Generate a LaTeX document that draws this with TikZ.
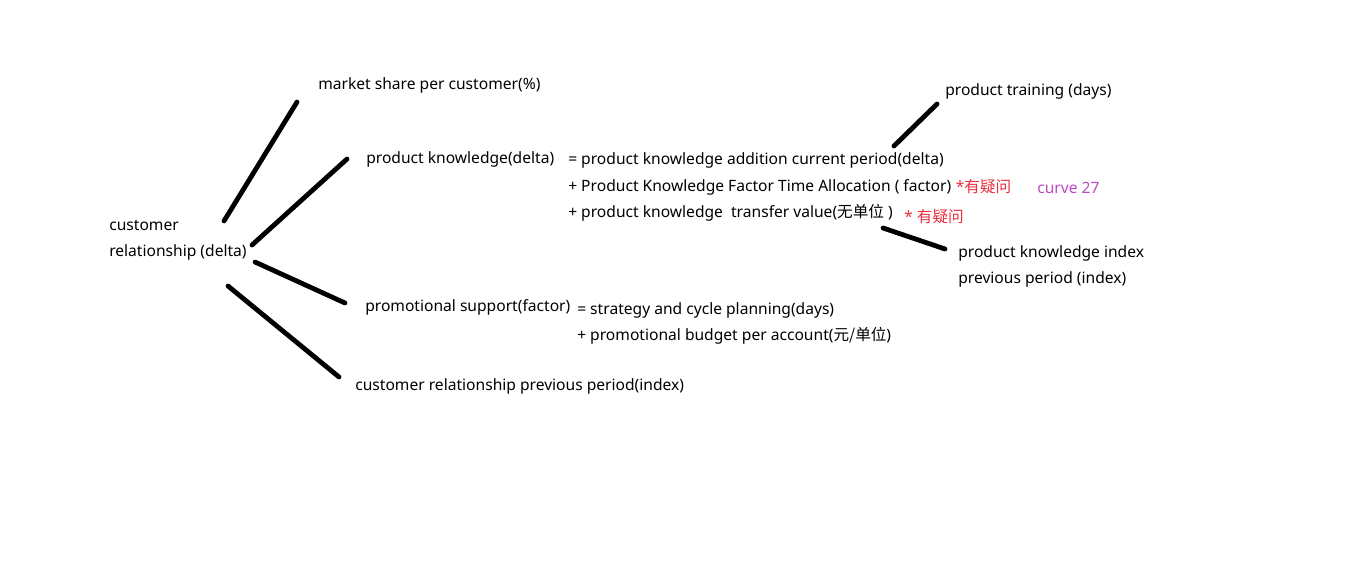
\documentclass[tikz,border=0pt]{standalone}
\usepackage{fontspec}
\setmainfont{Noto Sans}
\newfontfamily\cjk{Noto Sans CJK SC}
\usetikzlibrary{positioning}
\definecolor{noteRed}{RGB}{235,45,60}
\definecolor{curvePurple}{RGB}{185,75,195}
\tikzset{
  txt/.style={anchor=west, inner sep=0pt, align=left, font=\fontsize{11.7}{19.5}\selectfont},
  note/.style={txt, text=noteRed},
  curvenote/.style={txt, text=curvePurple},
  link/.style={line width=3.6pt, line cap=round}
}
\begin{document}
\begin{tikzpicture}[x=0.75pt, y=-0.75pt]
\useasboundingbox (0,0) rectangle (1355,560);
% root and first-level factors
\node[txt] (cr) at (109,240) {customer\\relationship (delta)};
\node[txt] (ms) at (318,85) {market share per customer(\%)};
\node[txt] (pk) at (366,159) {product knowledge(delta)};
\node[txt] (ps) at (365,307) {promotional support(factor)};
\node[txt] (crp) at (355,386) {customer relationship previous period(index)};
% product knowledge terms
\node[txt] (pk1) at (568,160) {= product knowledge addition current period(delta)};
\node[txt] (pk2) at (568,187) {+ Product Knowledge Factor Time Allocation ( factor)};
\node[note, right=3pt of pk2] (q1) {*{\cjk 有疑问}};
\node[curvenote] (c27) at (1037,188) {curve 27};
\node[txt] (pk3) at (568,213) {+ product knowledge\ \ transfer value({\cjk 无单位} )};
\node[note] (q2) at (904,217) {* {\cjk 有疑问}};
\node[txt] (pt) at (945,91) {product training (days)};
\node[txt] (pki) at (958,266) {product knowledge index\\previous period (index)};
% promotional support terms
\node[txt] (ps1) at (577,310) {= strategy and cycle planning(days)};
\node[txt] (ps2) at (577,336) {+ promotional budget per account({\cjk 元/单位})};
% stroke ends
\coordinate (cr-ms) at (224,221);
\coordinate (ms-in) at (297,102);
\coordinate (cr-pk) at (252,245);
\coordinate (pk-in) at (347,159);
\coordinate (cr-ps) at (255,262);
\coordinate (ps-in) at (345,303);
\coordinate (cr-crp) at (228,286);
\coordinate (crp-in) at (339,377);
\coordinate (pk1-pt) at (894,146);
\coordinate (pt-in) at (937,104);
\coordinate (pk3-pki) at (883,228);
\coordinate (pki-in) at (945,249);
\draw[link] (cr-ms) -- (ms-in);
\draw[link] (cr-pk) -- (pk-in);
\draw[link] (cr-ps) -- (ps-in);
\draw[link] (cr-crp) -- (crp-in);
\draw[link] (pk1-pt) -- (pt-in);
\draw[link] (pk3-pki) -- (pki-in);
\end{tikzpicture}
\end{document}
